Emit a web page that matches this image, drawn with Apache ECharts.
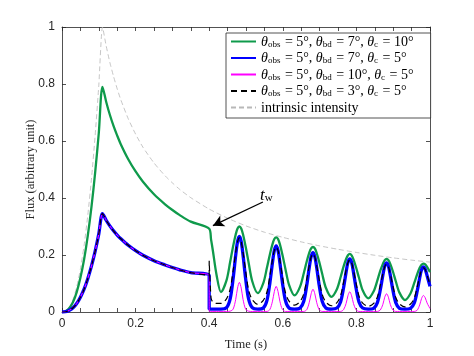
<!DOCTYPE html>
<html>
<head>
<meta charset="utf-8">
<script src="https://cdn.jsdelivr.net/npm/echarts@6/dist/echarts.min.js"></script>
<style>
  html, body { margin: 0; padding: 0; background: #fff; }
  #main { width: 474px; height: 356px; }
</style>
</head>
<body>
<div id="main"></div>
<script>
// angles of the four curves (legend text)
const obsAngles = [5, 5, 5, 5]
const bdAngles = [7, 7, 10, 3]
const cAngles = [10, 5, 5, 5]

// intrinsic intensity (grey dashed)
const tIntrinsic = [0, 0.01, 0.02, 0.03, 0.04, 0.05, 0.06, 0.07, 0.08, 0.09, 0.1, 0.11,
  0.12, 0.13, 0.14, 0.15, 0.16, 0.18, 0.2, 0.22, 0.25, 0.28, 0.3, 0.32, 0.35, 0.4,
  0.45, 0.5, 0.55, 0.6, 0.65, 0.7, 0.75, 0.8, 0.85, 0.9, 0.95, 1.0]
const intrinsic = [0, 0.003, 0.017, 0.044, 0.088, 0.151, 0.233, 0.338, 0.466, 0.618, 0.795, 1.0,
  0.934, 0.876, 0.827, 0.783, 0.744, 0.678, 0.624, 0.578, 0.523, 0.478, 0.453, 0.43, 0.401, 0.361,
  0.329, 0.302, 0.28, 0.262, 0.246, 0.232, 0.22, 0.209, 0.199, 0.19, 0.182, 0.175]

// before t_w (0 - 0.4 s)
const tEarly = [0, 0.01, 0.02, 0.03, 0.04, 0.05, 0.06, 0.07, 0.08, 0.09, 0.1, 0.11,
  0.12, 0.13, 0.14, 0.15, 0.16, 0.18, 0.2, 0.22, 0.25, 0.28, 0.3, 0.32, 0.35, 0.4]
const greenEarly = [0, 0.003, 0.014, 0.035, 0.07, 0.12, 0.184, 0.267, 0.368, 0.488, 0.628, 0.79,
  0.738, 0.692, 0.653, 0.619, 0.588, 0.536, 0.493, 0.457, 0.413, 0.378, 0.358, 0.340, 0.317, 0.292]
const narrowEarly = [0, 0.001, 0.006, 0.015, 0.03, 0.052, 0.08, 0.117, 0.161, 0.213, 0.274, 0.345,
  0.322, 0.302, 0.285, 0.27, 0.257, 0.234, 0.215, 0.199, 0.18, 0.165, 0.156, 0.148, 0.138, 0.128]

// after t_w (0.4 - 1 s)
const tLate = [0.4, 0.405, 0.41, 0.42,
  0.432, 0.447, 0.457, 0.465, 0.472, 0.477, 0.482, 0.487, 0.492, 0.499, 0.507, 0.517,
  0.532, 0.547, 0.557, 0.565, 0.572, 0.577, 0.582, 0.587, 0.592, 0.599, 0.607, 0.617,
  0.632, 0.647, 0.657, 0.665, 0.672, 0.677, 0.682, 0.687, 0.692, 0.699, 0.707, 0.717,
  0.732, 0.747, 0.757, 0.765, 0.772, 0.777, 0.782, 0.787, 0.792, 0.799, 0.807, 0.817,
  0.832, 0.847, 0.857, 0.865, 0.872, 0.877, 0.882, 0.887, 0.892, 0.899, 0.907, 0.917,
  0.932, 0.947, 0.957, 0.965, 0.972, 0.977, 0.982, 0.987, 0.992, 1.0]
const greenLate = [0.292, 0.255, 0.215, 0.13,
  0.070, 0.111, 0.176, 0.231, 0.272, 0.293, 0.300, 0.293, 0.272, 0.230, 0.174, 0.108,
  0.066, 0.101, 0.156, 0.203, 0.238, 0.256, 0.262, 0.256, 0.238, 0.201, 0.152, 0.095,
  0.058, 0.089, 0.136, 0.177, 0.208, 0.223, 0.228, 0.223, 0.207, 0.176, 0.134, 0.085,
  0.053, 0.080, 0.122, 0.159, 0.186, 0.199, 0.204, 0.199, 0.185, 0.157, 0.120, 0.076,
  0.048, 0.073, 0.111, 0.145, 0.169, 0.182, 0.186, 0.182, 0.169, 0.143, 0.108, 0.068,
  0.042, 0.065, 0.101, 0.132, 0.155, 0.166, 0.170, 0.167, 0.158, 0.14]
const blueLate = [0.01, 0.01, 0.01, 0.01,
  0.01, 0.015, 0.046, 0.117, 0.199, 0.247, 0.265, 0.247, 0.199, 0.117, 0.046, 0.015,
  0.01, 0.014, 0.041, 0.103, 0.174, 0.216, 0.232, 0.216, 0.174, 0.103, 0.041, 0.014,
  0.01, 0.014, 0.038, 0.093, 0.157, 0.194, 0.208, 0.194, 0.157, 0.093, 0.038, 0.014,
  0.01, 0.014, 0.035, 0.084, 0.140, 0.174, 0.186, 0.174, 0.140, 0.084, 0.035, 0.014,
  0.01, 0.013, 0.033, 0.078, 0.130, 0.161, 0.172, 0.161, 0.130, 0.078, 0.033, 0.013,
  0.01, 0.013, 0.031, 0.072, 0.120, 0.148, 0.158, 0.150, 0.128, 0.09]
const magentaLate = [0.002, 0.002, 0.002, 0.002,
  0.002, 0.002, 0.003, 0.010, 0.044, 0.084, 0.104, 0.084, 0.044, 0.010, 0.003, 0.002,
  0.002, 0.002, 0.002, 0.009, 0.038, 0.072, 0.090, 0.072, 0.038, 0.009, 0.002, 0.002,
  0.002, 0.002, 0.002, 0.008, 0.034, 0.064, 0.080, 0.064, 0.034, 0.008, 0.002, 0.002,
  0.002, 0.002, 0.002, 0.008, 0.030, 0.057, 0.071, 0.057, 0.030, 0.008, 0.002, 0.002,
  0.002, 0.002, 0.002, 0.007, 0.027, 0.052, 0.064, 0.052, 0.027, 0.007, 0.002, 0.002,
  0.002, 0.002, 0.002, 0.006, 0.025, 0.047, 0.058, 0.050, 0.032, 0.012]
const blackLate = [0.18, 0.05, 0.035, 0.03,
  0.030, 0.046, 0.081, 0.145, 0.209, 0.246, 0.260, 0.246, 0.209, 0.144, 0.078, 0.043,
  0.027, 0.041, 0.071, 0.128, 0.184, 0.216, 0.228, 0.216, 0.183, 0.126, 0.069, 0.038,
  0.024, 0.037, 0.064, 0.114, 0.164, 0.193, 0.204, 0.193, 0.164, 0.113, 0.062, 0.035,
  0.022, 0.033, 0.057, 0.103, 0.148, 0.173, 0.183, 0.173, 0.147, 0.102, 0.056, 0.031,
  0.020, 0.030, 0.053, 0.094, 0.135, 0.159, 0.168, 0.159, 0.135, 0.093, 0.051, 0.029,
  0.018, 0.028, 0.048, 0.087, 0.125, 0.147, 0.155, 0.149, 0.130, 0.095]

const pairs = (ts, vs) => ts.map((t, i) => [t, vs[i]])
const names = obsAngles.map((o, i) => 'θobs = ' + o + '°, θbd = ' + bdAngles[i] + '°, θc = ' + cAngles[i] + '°')
const intrinsicName = 'intrinsic intensity'

const axisColor = '#262626'
const serif = '"Liberation Serif", "DejaVu Serif", serif'
const sans = '"Liberation Sans", Arial, sans-serif'

const chart = echarts.init(document.getElementById('main'))

const tickLabel = v => {
  const r = Math.round(v / 0.2)
  return Math.abs(v / 0.2 - r) < 1e-6 ? String(+(r * 0.2).toFixed(1)) : ''
}

chart.setOption({
  animation: false,
  backgroundColor: '#fff',
  grid: { left: 62, right: 44, top: 27, bottom: 39 },
  legend: {
    orient: 'vertical',
    left: 226,
    top: 33,
    padding: [2, 17, 3, 4],
    itemGap: 2.5,
    itemWidth: 25,
    itemHeight: 14,
    borderColor: axisColor,
    borderWidth: 0.8,
    borderRadius: 0,
    backgroundColor: '#fff',
    selectedMode: false,
    itemStyle: { opacity: 0 },
    data: names.concat([intrinsicName]),
    formatter: name => {
      const i = names.indexOf(name)
      if (i < 0) return '{n|' + name + '}'
      return '{t|θ}{s|obs}{n| = ' + obsAngles[i] + '°, }{t|θ}{s|bd}{n| = ' + bdAngles[i] +
        '°, }{t|θ}{s|c}{n| = ' + cAngles[i] + '°}'
    },
    textStyle: {
      color: '#000',
      rich: {
        n: { fontFamily: serif, fontSize: 14, color: '#000', lineHeight: 15, verticalAlign: 'bottom' },
        t: { fontFamily: serif, fontSize: 14, fontStyle: 'italic', color: '#000', lineHeight: 15, verticalAlign: 'bottom' },
        s: { fontFamily: serif, fontSize: 9, color: '#000', lineHeight: 9, verticalAlign: 'bottom', padding: [0, 1, 0, 0] }
      }
    }
  },
  xAxis: [
    {
      type: 'value', min: 0, max: 1, interval: 0.05,
      axisLine: { lineStyle: { color: axisColor, width: 0.8 } },
      axisTick: { inside: true, length: 4, lineStyle: { color: axisColor, width: 0.8 } },
      axisLabel: { formatter: tickLabel, color: axisColor, fontFamily: sans, fontSize: 12, margin: 6, showMinLabel: true, showMaxLabel: true },
      splitLine: { show: false },
      name: 'Time (s)', nameLocation: 'middle', nameGap: 26, nameMoveOverlap: false,
      nameTextStyle: { fontFamily: serif, fontSize: 12.5, color: axisColor }
    },
    {
      type: 'value', min: 0, max: 1, interval: 0.05, position: 'top',
      axisLine: { onZero: false, lineStyle: { color: axisColor, width: 0.8 } },
      axisTick: { inside: true, length: 4, lineStyle: { color: axisColor, width: 0.8 } },
      axisLabel: { show: false },
      splitLine: { show: false }
    }
  ],
  yAxis: [
    {
      type: 'value', min: 0, max: 1, interval: 0.2,
      axisLine: { show: true, lineStyle: { color: axisColor, width: 0.8 } },
      axisTick: { show: true, inside: true, length: 4, lineStyle: { color: axisColor, width: 0.8 } },
      axisLabel: { formatter: v => String(+v.toFixed(1)), color: axisColor, fontFamily: sans, fontSize: 12, margin: 7 },
      splitLine: { show: false },
      name: 'Flux (arbitrary unit)', nameLocation: 'middle', nameGap: 25, nameMoveOverlap: false,
      nameTextStyle: { fontFamily: serif, fontSize: 12.5, color: axisColor }
    },
    {
      type: 'value', min: 0, max: 1, interval: 0.2, position: 'right',
      axisLine: { show: true, onZero: false, lineStyle: { color: axisColor, width: 0.8 } },
      axisTick: { show: true, inside: true, length: 4, lineStyle: { color: axisColor, width: 0.8 } },
      axisLabel: { show: false },
      splitLine: { show: false }
    }
  ],
  series: [
    {
      name: names[0], type: 'line', symbol: 'none', smooth: 0.3, z: 3,
      lineStyle: { color: '#0f9a4b', width: 2.3 }, itemStyle: { color: '#0f9a4b' },
      data: pairs(tEarly, greenEarly).concat(pairs(tLate, greenLate)),
      markLine: {
        silent: true, symbol: ['none', 'arrow'], symbolSize: [9, 11],
        lineStyle: { color: '#000', width: 1.3, type: 'solid' },
        label: { show: false },
        data: [[{ coord: [0.546, 0.386] }, { coord: [0.41, 0.303] }]]
      },
      markPoint: {
        silent: true, symbol: 'circle', symbolSize: 0,
        label: {
          show: true, position: 'inside',
          formatter: '{t|t}{w|w}',
          rich: {
            t: { fontFamily: serif, fontStyle: 'italic', fontSize: 17, color: '#000', lineHeight: 18, verticalAlign: 'bottom' },
            w: { fontFamily: serif, fontSize: 11, color: '#000', lineHeight: 11, verticalAlign: 'bottom' }
          }
        },
        data: [{ coord: [0.555, 0.412] }]
      }
    },
    {
      name: names[1], type: 'line', symbol: 'none', smooth: 0.3, z: 4,
      lineStyle: { color: '#0000ff', width: 3.3 }, itemStyle: { color: '#0000ff' },
      data: pairs(tEarly, narrowEarly).concat(pairs(tLate, blueLate))
    },
    {
      name: names[2], type: 'line', symbol: 'none', smooth: 0.3, z: 5,
      lineStyle: { color: '#ff00ff', width: 1 }, itemStyle: { color: '#ff00ff' },
      data: pairs(tEarly, narrowEarly).concat(pairs(tLate, magentaLate))
    },
    {
      name: names[3], type: 'line', symbol: 'none', smooth: 0.3, z: 6,
      lineStyle: { color: '#000', width: 1.2, type: [6, 4] }, itemStyle: { color: '#000' },
      data: pairs(tEarly, narrowEarly).concat(pairs(tLate, blackLate))
    },
    {
      name: intrinsicName, type: 'line', symbol: 'none', smooth: 0.2, z: 2,
      lineStyle: { color: '#b8b8b8', width: 0.8, type: [5, 3] }, itemStyle: { color: '#b8b8b8' },
      data: pairs(tIntrinsic, intrinsic)
    }
  ]
})
</script>
</body>
</html>
